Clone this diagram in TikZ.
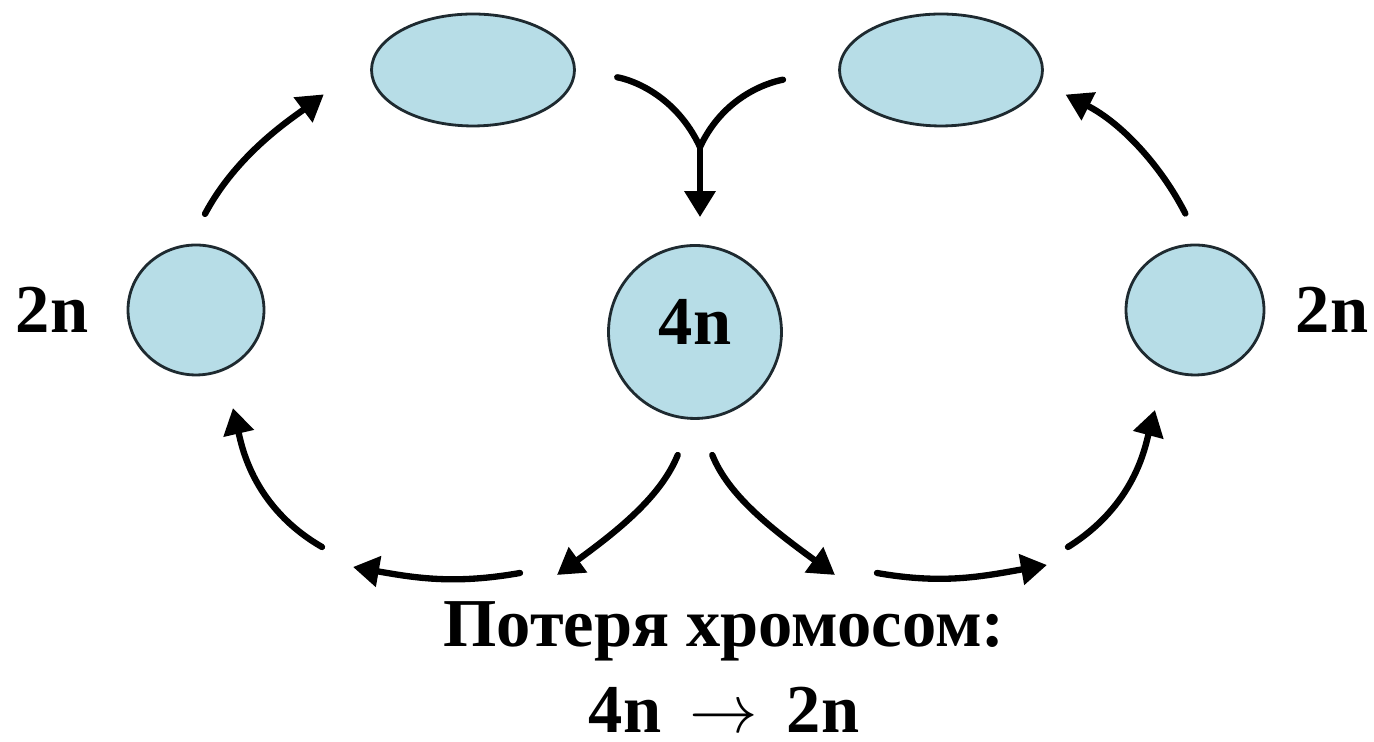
\RequirePackage{fix-cm}
\documentclass[tikz,border=0pt]{standalone}
\usepackage{fontspec}
\setmainfont{Liberation Serif}
\usetikzlibrary{arrows.meta,shapes.geometric}
\definecolor{cellfill}{RGB}{183,221,231}
\definecolor{celledge}{RGB}{30,42,48}

\begin{document}
\begin{tikzpicture}[x=0.02cm, y=0.02cm,
    cell/.style={ellipse, draw=celledge, line width=1.6pt, fill=cellfill, inner sep=0pt},
    ln/.style={line width=3.6pt, line cap=round},
    arr/.style={ln, -{Triangle[length=0.52cm, width=0.6cm]}},
    lbl/.style={font=\fontsize{39}{46}\selectfont\bfseries, inner sep=0pt}
]
\useasboundingbox (0,0) rectangle (1374,742);

\node[cell, minimum width=2.72cm, minimum height=2.6cm] (lc) at (196,432) {};
\node[cell, lbl, minimum width=3.46cm, minimum height=3.46cm, text depth=0.4cm] (cc) at (695,410) {4n};
\node[cell, minimum width=2.76cm, minimum height=2.6cm] (rc) at (1195,432) {};
\node[cell, minimum width=4.06cm, minimum height=2.24cm] (tl) at (473,672) {};
\node[cell, minimum width=4.06cm, minimum height=2.24cm] (tr) at (941,672) {};

\node[lbl, anchor=base] (lcl) at (52,409) {2n};
\node[lbl, anchor=base] (rcl) at (1332,409) {2n};
\node[lbl, anchor=base] (loss) at (724,95) {Потеря хромосом:};
\node[lbl, anchor=base] (ratio) at (724,9) {4n\, $\rightarrow$\, 2n};

\coordinate (mrg) at (700,595);
\coordinate (l1) at (557,167);
\coordinate (l2) at (520,169);
\coordinate (l3) at (353,175);
\coordinate (l4) at (322,195);
\coordinate (r1) at (835,167);
\coordinate (r2) at (877,169);
\coordinate (r3) at (1047,177);
\coordinate (r4) at (1068,195);

\draw[arr, shorten <=0.68cm, shorten >=1.22cm] (lc.96) to[out=62, in=217] (tl.173);
\draw[arr, shorten <=0.68cm, shorten >=0.54cm] (rc.85) to[out=117, in=-27] (tr.-7);
\draw[ln, shorten <=0.84cm] (tl.east) to[out=-10, in=115] (mrg);
\draw[ln, shorten <=1.12cm] (tr.west) to[out=190, in=65] (mrg);
\draw[arr, shorten >=0.54cm] (mrg) -- (mrg |- cc.north);

\draw[arr, shorten <=0.76cm] (cc.268) to[out=248, in=36] (l1);
\draw[arr, shorten <=0.76cm] (cc.272) to[out=292, in=144] (r1);
\draw[arr] (l2) to[out=190, in=-10] (l3);
\draw[arr] (r2) to[out=-10, in=190] (r3);
\draw[arr, shorten >=0.77cm] (l4) to[out=150, in=283] (lc.-65);
\draw[arr, shorten >=0.82cm] (r4) to[out=32, in=255] (rc.244);
\end{tikzpicture}
\end{document}
